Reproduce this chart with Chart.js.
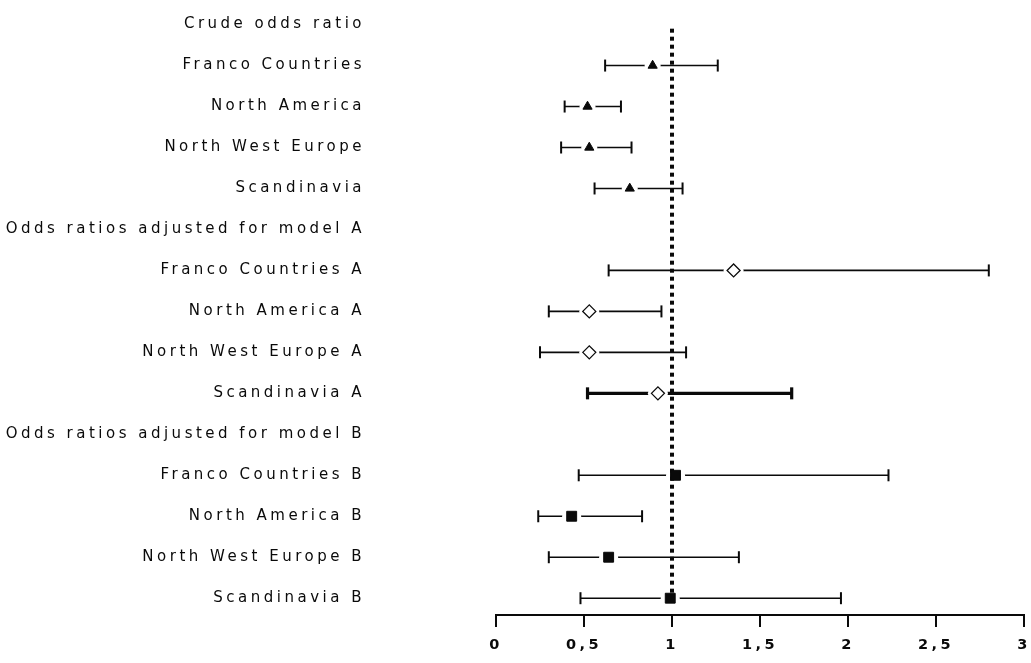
<!DOCTYPE html>
<html>
<head>
<meta charset="utf-8">
<title>Odds ratios by region</title>
<script src="https://cdn.jsdelivr.net/npm/chart.js@4.4.1/dist/chart.umd.min.js"></script>
<style>
  html, body { margin: 0; padding: 0; background: #ffffff; }
  #wrap { position: relative; width: 1031px; height: 663px; }
</style>
</head>
<body>
<div id="wrap"><canvas id="forest"></canvas></div>
<script>
// Row labels, top to bottom
const rowLabels = [
  'Crude odds ratio',
  'Franco Countries',
  'North America',
  'North West Europe',
  'Scandinavia',
  'Odds ratios adjusted for model A',
  'Franco Countries A',
  'North America A',
  'North West Europe A',
  'Scandinavia A',
  'Odds ratios adjusted for model B',
  'Franco Countries B',
  'North America B',
  'North West Europe B',
  'Scandinavia B'
];

// Crude odds ratios with 95% CI
const crudeRows = ['Franco Countries', 'North America', 'North West Europe', 'Scandinavia'];
const crudeOR   = [0.89, 0.52, 0.53, 0.76];
const crudeLow  = [0.62, 0.39, 0.37, 0.56];
const crudeHigh = [1.26, 0.71, 0.77, 1.06];

// Adjusted for model A
const modelARows = ['Franco Countries A', 'North America A', 'North West Europe A', 'Scandinavia A'];
const modelAOR   = [1.35, 0.53, 0.53, 0.92];
const modelALow  = [0.64, 0.30, 0.25, 0.52];
const modelAHigh = [2.80, 0.94, 1.08, 1.68];

// Adjusted for model B
const modelBRows = ['Franco Countries B', 'North America B', 'North West Europe B', 'Scandinavia B'];
const modelBOR   = [1.02, 0.43, 0.64, 0.99];
const modelBLow  = [0.47, 0.24, 0.30, 0.48];
const modelBHigh = [2.23, 0.83, 1.38, 1.96];

// Reference line (no effect) and axis tick labels
const referenceOR = 1;
const xTickLabels = ['0', '0,5', '1', '1,5', '2', '2,5', '3'];

const FAMILY = "'DejaVu Sans', Verdana, sans-serif";
const INK = '#0a0a0a';

function rowOf(label) { return rowLabels.indexOf(label); }

function points(rows, values) {
  return rows.map((r, i) => ({ x: values[i], y: rowOf(r) }));
}

const groups = [
  { rows: crudeRows,  or: crudeOR,  low: crudeLow,  high: crudeHigh,
    marker: { pointStyle: 'triangle', pointRadius: 5.3, backgroundColor: INK, borderColor: INK, borderWidth: 1 }, halo: 8 },
  { rows: modelARows, or: modelAOR, low: modelALow, high: modelAHigh,
    marker: { pointStyle: 'rectRot', pointRadius: 6.5, backgroundColor: '#ffffff', borderColor: INK, borderWidth: 1.3 }, halo: 10 },
  { rows: modelBRows, or: modelBOR, low: modelBLow, high: modelBHigh,
    marker: { pointStyle: 'rect', pointRadius: 7, backgroundColor: INK, borderColor: INK, borderWidth: 1 }, halo: 9.5 }
];

const datasets = [];

// Confidence-interval whiskers with end caps
groups.forEach(g => {
  g.rows.forEach((r, i) => {
    const heavy = r === 'Scandinavia A';
    datasets.push({
      label: r + ' CI',
      data: [{ x: g.low[i], y: rowOf(r) }, { x: g.high[i], y: rowOf(r) }],
      showLine: true,
      borderColor: INK,
      borderWidth: heavy ? 3.2 : 1.6,
      pointStyle: 'line',
      rotation: 90,
      pointRadius: 6,
      pointBorderColor: INK,
      pointBorderWidth: heavy ? 3.2 : 2,
      order: 4
    });
  });
});

// White clearance around each estimate
groups.forEach(g => {
  datasets.push({
    label: 'clearance',
    data: points(g.rows, g.or),
    showLine: false,
    pointStyle: 'circle',
    pointRadius: g.halo,
    backgroundColor: '#ffffff',
    borderWidth: 0,
    order: 3
  });
});

// Dotted vertical line at OR = 1
datasets.push({
  label: 'reference',
  data: [{ x: referenceOR, y: 0.1 }, { x: referenceOR, y: 14.15 }],
  showLine: true,
  borderColor: INK,
  borderWidth: 4,
  borderDash: [4, 4],
  borderCapStyle: 'butt',
  pointRadius: 0,
  order: 2
});

// Point estimates
groups.forEach(g => {
  datasets.push({
    label: 'estimate',
    data: points(g.rows, g.or),
    showLine: false,
    order: 1,
    pointStyle: g.marker.pointStyle,
    pointRadius: g.marker.pointRadius,
    backgroundColor: g.marker.backgroundColor,
    borderColor: g.marker.borderColor,
    borderWidth: g.marker.borderWidth
  });
});

// Wide, evenly tracked lettering for all axis text
const letterSpacing = {
  id: 'letterSpacing',
  beforeDraw(chart) { chart.ctx.letterSpacing = '3.5px'; }
};

new Chart(document.getElementById('forest'), {
  type: 'scatter',
  data: { datasets },
  plugins: [letterSpacing],
  options: {
    responsive: true,
    maintainAspectRatio: false,
    animation: false,
    events: [],
    layout: { autoPadding: false, padding: { left: 0, right: 7, top: 0, bottom: 0 } },
    plugins: { legend: { display: false }, tooltip: { enabled: false } },
    scales: {
      x: {
        type: 'linear',
        position: 'bottom',
        min: 0,
        max: 3,
        afterFit(scale) {
          scale.height = 48;
          scale.paddingLeft = 0;
          scale.paddingRight = 0;
        },
        ticks: {
          stepSize: 0.5,
          autoSkip: false,
          maxRotation: 0,
          padding: 10,
          color: INK,
          font: { family: FAMILY, size: 14.5, weight: 'bold' },
          callback: v => xTickLabels[Math.round(v * 2)]
        },
        grid: { drawOnChartArea: false, drawTicks: true, tickLength: 12, color: INK, lineWidth: 2 },
        border: { display: true, color: INK, width: 2 }
      },
      y: {
        type: 'linear',
        reverse: true,
        min: -0.6,
        max: 14.41,
        afterFit(scale) {
          scale.width = 496;
          scale.paddingTop = 0;
          scale.paddingBottom = 0;
        },
        afterBuildTicks(scale) { scale.ticks = rowLabels.map((_, i) => ({ value: i })); },
        ticks: {
          autoSkip: false,
          padding: 131,
          color: INK,
          font: { family: FAMILY, size: 15 },
          callback: v => rowLabels[v]
        },
        grid: { display: false, drawTicks: false },
        border: { display: false }
      }
    }
  }
});
</script>
</body>
</html>
